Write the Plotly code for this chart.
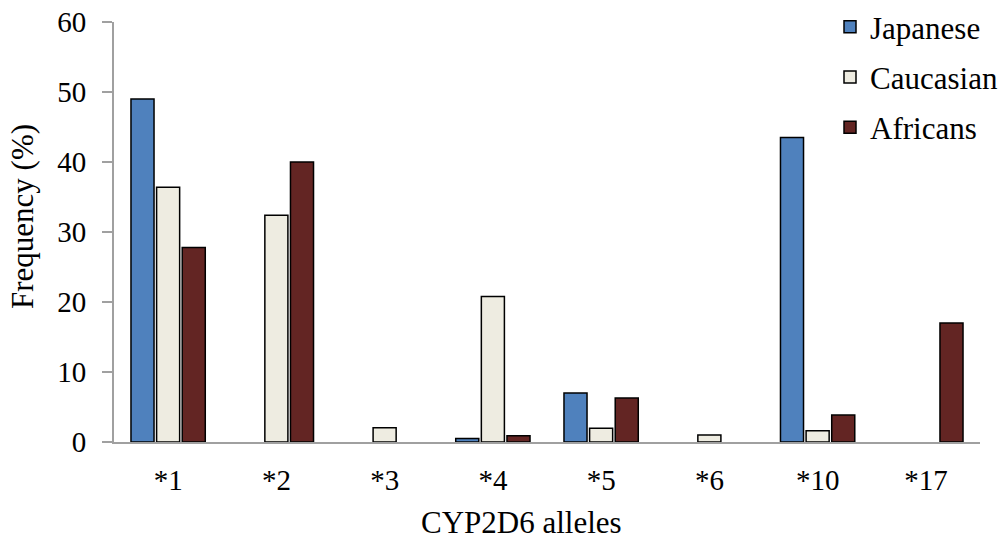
import plotly.graph_objects as go

categories = ["*1", "*2", "*3", "*4", "*5", "*6", "*10", "*17"]
japanese = [49.0, None, None, 0.5, 7.0, None, 43.5, None]
caucasian = [36.4, 32.4, 2.05, 20.8, 1.95, 1.0, 1.6, None]
africans = [27.8, 40.0, None, 0.9, 6.3, None, 3.85, 17.0]

series = [("Japanese", japanese, "#4F81BD"),
          ("Caucasian", caucasian, "#EEECE1"),
          ("Africans", africans, "#632523")]

FONT = "Liberation Serif"
PLOT_L, PLOT_R, PLOT_T, PLOT_B = 114, 980, 22, 442
W, H = 1003, 543

def px_x(x):
    return (x - PLOT_L) / (PLOT_R - PLOT_L)

def px_y(y):
    return (PLOT_B - y) / (PLOT_B - PLOT_T)

fig = go.Figure()
for name, vals, color in series:
    fig.add_trace(go.Bar(
        x=categories, y=vals, name=name, legendgroup=name,
        marker=dict(color=color, line=dict(color="black", width=1.5)),
    ))

fig.update_layout(
    width=W, height=H,
    margin=dict(l=PLOT_L, r=W - PLOT_R, t=PLOT_T, b=H - PLOT_B, autoexpand=False),
    plot_bgcolor="white", paper_bgcolor="white",
    barmode="group", bargap=0.29, bargroupgap=0.1,
    font=dict(family=FONT, size=29, color="black"),
    showlegend=True,
    legend=dict(x=px_x(830), y=px_y(0), xanchor="left", yanchor="top",
                font=dict(family=FONT, size=31), tracegroupgap=7,
                bgcolor="rgba(0,0,0,0)"),
    xaxis=dict(showline=True, linecolor="#A0A0A0", linewidth=2, automargin=False,
               ticks="", tickfont=dict(family=FONT, size=29), ticklabelstandoff=11),
    yaxis=dict(range=[0, 60], dtick=10, showline=True, linecolor="#A0A0A0", linewidth=2,
               automargin=False,
               ticks="outside", ticklen=10, tickcolor="#A0A0A0", tickwidth=2,
               showgrid=False, zeroline=False, tickfont=dict(family=FONT, size=29),
               ticklabelstandoff=10),
    annotations=[
        dict(text="CYP2D6 alleles", xref="paper", yref="paper",
             x=px_x(521), y=px_y(542), xanchor="center", yanchor="bottom",
             showarrow=False, font=dict(family=FONT, size=31)),
        dict(text="Frequency (%)", xref="paper", yref="paper", textangle=-90,
             x=px_x(22), y=px_y(217), xanchor="center", yanchor="middle",
             showarrow=False, font=dict(family=FONT, size=31)),
    ],
)

fig.write_html("out.html")
